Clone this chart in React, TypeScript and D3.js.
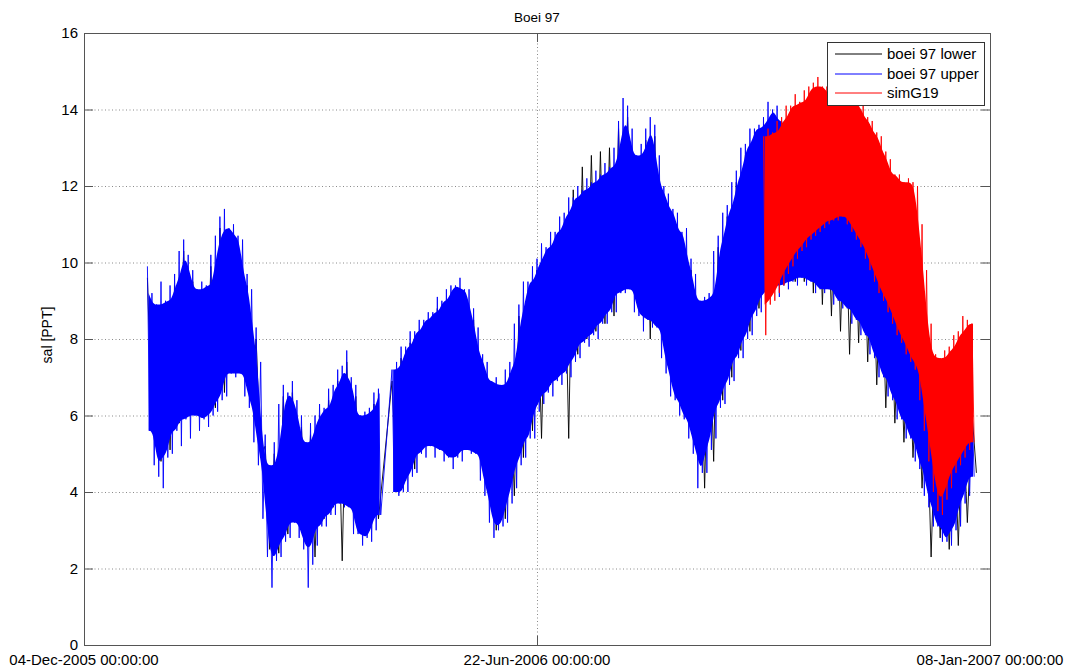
import React from "react";
import * as d3 from "d3";

const DAY = 86400000;

// Buoy 97 salinity, tidal extremes every 2 days starting 1 Jan 2006 (upper sensor)
const upperStart = Date.UTC(2006, 0, 1);
const upperStepDays = 2;
const upperHigh: (number | null)[] = [
  9.9, 9.2, 8.9, 9.5, 9.0, 9.4, 9.7, 10.3, 10.6, 10.2, 9.8, 9.3, 9.5, 9.4, 10.2, 10.7, 11.2, 11.4, 10.9, 11.0,
  10.7, 10.6, 9.7, 9.3, 8.3, 7.4, 5.5, 4.7, 5.3, 6.3, 6.8, 6.6, 6.9, 6.4, 6.0, 5.3, 5.8, 6.0, 6.3, 6.2,
  6.7, 6.8, 7.2, 7.3, 7.7, 7.0, 6.8, 6.0, 6.1, 6.2, 6.6, 6.7, null, null, 7.2, 7.4, 7.8, 7.8, 8.2, 8.2,
  8.5, 8.5, 8.7, 8.7, 9.1, 9.0, 9.3, 9.4, 9.4, 9.6, 9.3, 9.3, 8.8, 8.3, 7.6, 7.4, 6.9, 7.0, 6.8, 7.2,
  7.4, 8.4, 8.9, 9.5, 9.5, 9.9, 10.1, 10.5, 10.4, 10.8, 10.8, 11.2, 11.3, 11.7, 11.7, 12.0, 11.9, 12.2, 12.1, 12.4,
  12.3, 12.6, 12.5, 13.0, 13.7, 14.3, 14.1, 13.5, 12.8, 13.1, 13.5, 13.8, 13.6, 12.8, 12.0, 11.8, 11.4, 11.3, 10.8, 10.9,
  10.1, 9.7, 9.0, 9.1, 9.2, 10.3, 10.7, 11.3, 11.5, 12.1, 12.4, 13.0, 13.1, 13.5, 13.5, 13.6, 13.8, 14.2, 14.0, 14.1,
  13.7, 13.7, 13.4, 13.5, 13.1, 13.3, 13.2, 13.5, 13.1, 13.1, 12.7, 13.3, 12.8, 12.9, 12.4, 12.5, 12.1, 12.1, 11.9, 11.9,
  11.3, 11.1, 10.6, 10.5, 10.0, 9.9, 9.4, 9.1, 8.6, 8.3, 7.7, 7.5, 6.9, 6.9, 6.4, 6.4, 6.3, 6.4, 6.5, 6.9,
  6.5, 6.5, 6.4,
];
const upperLow: (number | null)[] = [
  5.6, 4.7, 4.4, 4.1, 4.9, 5.0, 5.6, 5.2, 5.9, 5.4, 6.0, 5.6, 5.9, 5.7, 6.0, 6.1, 6.4, 6.5, 7.1, 7.0,
  7.1, 6.5, 6.2, 5.3, 4.7, 3.3, 2.3, 1.5, 2.2, 2.3, 2.7, 2.8, 3.2, 2.8, 2.5, 1.5, 2.1, 2.6, 3.1, 3.1,
  3.4, 3.4, 3.7, 3.6, 3.6, 2.9, 2.9, 2.6, 2.8, 2.7, 3.0, 3.4, null, null, 4.0, 3.9, 4.0, 4.0, 4.4, 4.5,
  5.0, 4.9, 5.2, 4.9, 5.1, 4.8, 4.9, 4.6, 4.9, 4.8, 5.1, 5.0, 5.0, 4.3, 3.9, 3.2, 2.8, 3.0, 3.1, 3.2,
  3.7, 4.1, 4.7, 4.9, 5.4, 5.4, 6.1, 6.3, 6.6, 6.5, 6.9, 6.8, 7.1, 7.0, 7.4, 7.5, 7.9, 7.8, 8.1, 8.0,
  8.4, 8.4, 8.7, 8.7, 9.2, 9.2, 9.3, 8.7, 8.6, 8.2, 8.5, 8.3, 8.3, 7.5, 7.1, 6.5, 6.4, 6.0, 5.9, 5.4,
  5.0, 4.1, 4.5, 4.5, 5.1, 5.4, 6.2, 6.3, 6.8, 6.9, 7.5, 7.5, 8.0, 8.1, 8.6, 8.7, 9.1, 9.2, 9.4, 9.1,
  9.4, 9.3, 9.5, 9.4, 9.6, 9.4, 9.5, 9.2, 9.3, 9.2, 9.3, 8.9, 9.0, 8.8, 8.8, 8.4, 8.5, 8.1, 8.1, 7.6,
  7.5, 7.0, 7.0, 6.5, 6.4, 5.9, 5.9, 5.4, 5.4, 4.8, 4.6, 3.9, 3.6, 3.1, 3.1, 2.7, 2.7, 2.6, 3.0, 3.1,
  3.7, 3.9, 4.4,
];

// Lower sensor, tidal extremes every 4 days starting 1 Jan 2006
const lowerStart = Date.UTC(2006, 0, 1);
const lowerStepDays = 4;
const lowerHigh: (number | null)[] = [
  9.6, 8.6, 8.7, 9.4, 10.3, 9.5, 9.2, 9.9, 10.9, 10.6, 10.4, 9.4, 8.0, 5.2, 5.0, 6.5, 6.6, 5.7, 5.5, 6.0,
  6.4, 6.9, 7.4, 6.5, 5.8, 6.3, null, 6.9, 7.5, 7.9, 8.2, 8.4, 8.8, 9.0, 9.1, 9.0, 8.5, 7.3, 6.6, 6.5,
  7.1, 8.6, 9.2, 9.8, 10.1, 10.5, 11.0, 11.9, 12.5, 12.8, 12.9, 13.0, 13.5, 13.8, 12.6, 13.2, 13.3, 11.7, 11.1, 10.5,
  9.8, 8.7, 8.9, 10.4, 11.2, 12.1, 12.8, 13.2, 13.5, 13.7, 13.4, 13.1, 12.8, 12.9, 12.8, 12.4, 12.5, 12.1, 11.8, 11.6,
  11.0, 10.3, 9.7, 9.1, 8.3, 7.4, 6.6, 6.1, 6.0, 6.2, 6.2, 6.1,
];
const lowerLow: (number | null)[] = [
  5.8, 4.8, 5.1, 5.8, 6.1, 6.2, 6.1, 6.2, 6.6, 7.3, 7.3, 6.4, 4.9, 2.5, 2.4, 2.9, 3.4, 2.7, 2.3, 3.3,
  3.6, 2.2, 3.8, 3.1, 3.0, 3.3, null, 4.3, 4.3, 4.6, 5.2, 5.4, 5.3, 5.1, 5.1, 5.3, 5.2, 4.1, 3.0, 3.3,
  3.9, 4.9, 5.6, 5.4, 6.8, 7.1, 5.4, 7.6, 8.0, 8.2, 8.4, 8.6, 9.3, 9.4, 8.7, 8.0, 8.5, 7.3, 6.6, 6.1,
  5.2, 4.1, 4.8, 6.4, 7.0, 7.7, 8.2, 8.8, 9.3, 9.6, 9.5, 9.5, 9.5, 9.2, 8.9, 8.6, 8.2, 7.6, 7.9, 7.4,
  6.8, 6.2, 5.8, 5.3, 4.9, 4.1, 2.3, 2.8, 2.5, 2.6, 3.2, 4.5,
];

// simG19 model run, tidal extremes every 2 days starting 30 Sep 2006
const simStart = Date.UTC(2006, 8, 30);
const simStepDays = 2;
const simHigh: (number | null)[] = [
  13.3, 13.5, 13.4, 13.7, 13.8, 14.1, 14.1, 14.4, 14.2, 14.5, 14.6, 14.7, 14.85, 14.6, 14.6, 14.4, 14.5, 14.4, 14.5, 14.3,
  14.3, 14.1, 14.1, 13.8, 13.7, 13.4, 13.3, 12.9, 12.7, 12.3, 12.3, 12.1, 12.2, 12.1, 12.0, 11.0, 9.8, 8.4, 7.6, 7.5,
  7.7, 7.8, 8.1, 8.2, 8.6, 8.5, 8.4,
];
const simLow: (number | null)[] = [
  8.1, 8.9, 9.0, 9.2, 9.4, 9.7, 9.9, 10.1, 10.3, 10.4, 10.6, 10.7, 10.8, 10.9, 11.0, 11.1, 11.1, 11.2, 11.0, 10.8,
  10.6, 10.4, 10.1, 9.8, 9.5, 9.2, 9.0, 8.7, 8.4, 8.1, 7.9, 7.6, 7.4, 7.2, 6.4, 5.6, 4.8, 4.0, 3.5, 3.4,
  3.8, 4.1, 4.5, 4.7, 4.9, 5.1, 5.3,
];

const xDomain = [Date.UTC(2005, 11, 4), Date.UTC(2007, 0, 8)];
const xTickDates = [Date.UTC(2005, 11, 4), Date.UTC(2006, 5, 22), Date.UTC(2007, 0, 8)];
const xTickLabels = ["04-Dec-2005 00:00:00", "22-Jun-2006 00:00:00", "08-Jan-2007 00:00:00"];
const yTicks = [0, 2, 4, 6, 8, 10, 12, 14, 16];
const legendLabels = ["boei 97 lower", "boei 97 upper", "simG19"];
const seriesColors = ["#000000", "#0000ff", "#ff0000"];
// the lower sensor is drawn as a bare trace; the other two get a solid tidal band
const seriesFilled = [false, true, true];

const W = 1068;
const H = 670;
const left = 84;
const right = 990;
const top = 33;
const bottom = 645;
const FONT = "'Liberation Sans', Arial, Helvetica, sans-serif";

const x = d3.scaleUtc().domain(xDomain).range([left, right]);
const y = d3.scaleLinear().domain([0, 16]).range([bottom, top]);

type CorePt = { t: number; top: number; bot: number } | null;

function buildSeries(start: number, stepDays: number, hi: (number | null)[], lo: (number | null)[]) {
  const pts: [number, number][] = [];
  hi.forEach((h, i) => {
    const l = lo[i];
    if (h == null || l == null) return;
    const t = start + i * stepDays * DAY;
    pts.push([x(t), y(h)]);
    pts.push([x(t + (stepDays / 2) * DAY), y(l)]);
  });
  // solid band between the inner tidal extremes of each sample and its neighbours
  const core: CorePt[] = hi.map((h, i) => {
    if (h == null || lo[i] == null) return null;
    const idx = [i - 1, i, i + 1].filter((j) => j >= 0 && j < hi.length && hi[j] != null && lo[j] != null);
    const tp = d3.min(idx, (j) => hi[j] as number) as number;
    const bt = d3.max(idx, (j) => lo[j] as number) as number;
    return { t: start + (i * stepDays + stepDays / 4) * DAY, top: Math.max(tp, bt), bot: bt };
  });
  const line = d3.line<[number, number]>()(pts) || "";
  const area =
    d3
      .area<CorePt>()
      .defined((d) => d != null)
      .curve(d3.curveBasis)
      .x((d) => x((d as any).t))
      .y0((d) => y((d as any).bot))
      .y1((d) => y((d as any).top))(core) || "";
  return { line, area };
}

const seriesList = [
  buildSeries(lowerStart, lowerStepDays, lowerHigh, lowerLow),
  buildSeries(upperStart, upperStepDays, upperHigh, upperLow),
  buildSeries(simStart, simStepDays, simHigh, simLow),
];

export default function App() {
  const gridY = yTicks.filter((v) => v > 0 && v < 16);
  const gridX = xTickDates.slice(1, -1);
  return (
    <div style={{ position: "absolute", left: 0, top: 0, width: W, height: H, background: "#fff" }}>
      <svg width={W} height={H} style={{ display: "block" }} fontFamily={FONT}>
        <rect x={0} y={0} width={W} height={H} fill="#fff" />
        <defs>
          <clipPath id="plotClip">
            <rect x={left} y={top} width={right - left} height={bottom - top} />
          </clipPath>
        </defs>
        {/* dotted grid */}
        {gridY.map((v) => (
          <line key={"gy" + v} x1={left} x2={right} y1={y(v) + 0.5} y2={y(v) + 0.5}
            stroke="#8a8a8a" strokeWidth={1} strokeDasharray="1,2.5" />
        ))}
        {gridX.map((t) => (
          <line key={"gx" + t} x1={Math.round(x(t)) + 0.5} x2={Math.round(x(t)) + 0.5} y1={top} y2={bottom}
            stroke="#8a8a8a" strokeWidth={1} strokeDasharray="1,2.5" />
        ))}
        {/* series */}
        <g clipPath="url(#plotClip)">
          {seriesList.map((s, i) => (
            <g key={"s" + i}>
              {seriesFilled[i] && <path d={s.area} fill={seriesColors[i]} stroke="none" />}
              <path d={s.line} fill="none" stroke={seriesColors[i]} strokeWidth={0.9} />
            </g>
          ))}
        </g>
        {/* axes box and ticks */}
        <rect x={left + 0.5} y={top + 0.5} width={right - left} height={bottom - top}
          fill="none" stroke="#555" strokeWidth={1} />
        {yTicks.map((v) => (
          <g key={"yt" + v}>
            <line x1={left} x2={left + 9} y1={y(v) + 0.5} y2={y(v) + 0.5} stroke="#555" />
            <line x1={right - 9} x2={right} y1={y(v) + 0.5} y2={y(v) + 0.5} stroke="#555" />
            <text x={78} y={y(v)} dy="0.36em" textAnchor="end" fontSize={15} fill="#000">{v}</text>
          </g>
        ))}
        {xTickDates.map((t, i) => (
          <g key={"xt" + i}>
            <line x1={Math.round(x(t)) + 0.5} x2={Math.round(x(t)) + 0.5} y1={bottom} y2={bottom - 9} stroke="#555" />
            <line x1={Math.round(x(t)) + 0.5} x2={Math.round(x(t)) + 0.5} y1={top} y2={top + 9} stroke="#555" />
            <text x={x(t)} y={665} textAnchor="middle" fontSize={15} fill="#000">{xTickLabels[i]}</text>
          </g>
        ))}
        {/* title and axis label */}
        <text x={(left + right) / 2} y={22} textAnchor="middle" fontSize={13.5} fill="#000">Boei 97</text>
        <text transform={`translate(52,335) rotate(-90)`} textAnchor="middle" fontSize={14} fill="#000">sal [PPT]</text>
        {/* legend */}
        <rect x={827.5} y={42.5} width={157} height={63} fill="#fff" stroke="#333" strokeWidth={1} />
        {legendLabels.map((lab, i) => {
          const ly = 54 + i * 19.5;
          return (
            <g key={"lg" + i}>
              <line x1={835} x2={882} y1={Math.round(ly)} y2={Math.round(ly)}
                stroke={seriesColors[i]} strokeWidth={1} />
              <text x={887} y={ly} dy="0.36em" fontSize={15} fill="#000">{lab}</text>
            </g>
          );
        })}
      </svg>
    </div>
  );
}
